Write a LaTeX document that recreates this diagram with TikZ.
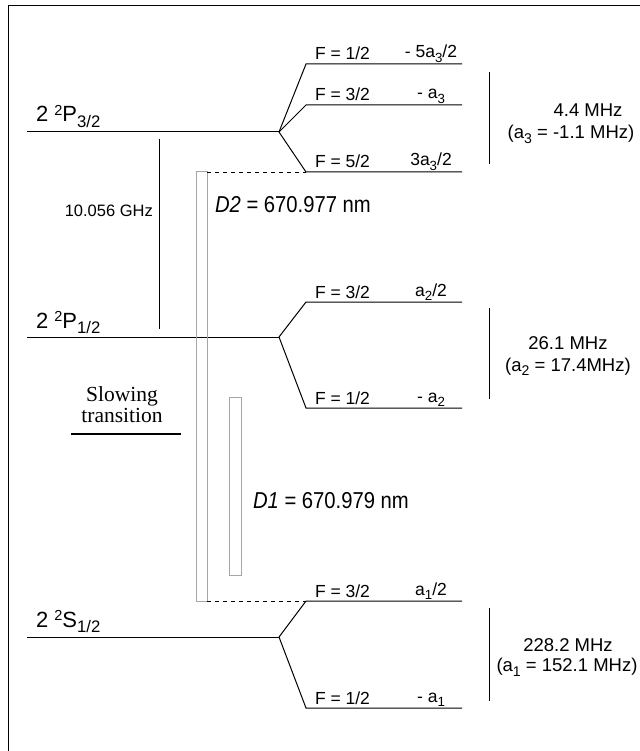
\documentclass[tikz,border=0pt]{standalone}
\usepackage{fontspec}
\setmainfont{Liberation Sans}
\newfontfamily\serifface{Liberation Serif}
\newfontfamily\narrowface[FakeStretch=0.88]{Liberation Sans}
\newcommand\lsb[1]{\raisebox{-0.27em}{\scalebox{0.76}{#1}}}
\newcommand\lsp[1]{\raisebox{0.28em}{\scalebox{0.66}{#1}}}
\tikzset{
  lvl/.style={line width=1pt, black},
  brk/.style={line width=1pt, black},
  dsh/.style={line width=0.9pt, dash pattern=on 4pt off 4pt},
  beam/.style={draw=gray!70, line width=1pt},
  lbl/.style={inner sep=0pt, outer sep=0pt, anchor=base west, font=\fontsize{22}{24}\selectfont},
  flbl/.style={inner sep=0pt, outer sep=0pt, anchor=base west, font=\fontsize{17.5}{19}\selectfont},
  albl/.style={inner sep=0pt, outer sep=0pt, anchor=base, font=\fontsize{17.5}{19}\selectfont},
  mhz/.style={inner sep=0pt, outer sep=0pt, anchor=base, font=\fontsize{18.5}{21}\selectfont},
  dlbl/.style={inner sep=0pt, outer sep=0pt, anchor=base west, font=\narrowface\fontsize{23}{26}\selectfont},
}
\begin{document}
\begin{tikzpicture}[x=1pt,y=-1pt]
\useasboundingbox (0,0) rectangle (639,751);
% frame
\coordinate (frBL) at (8,752);
\coordinate (frTL) at (8,6);
\coordinate (frTR) at (640,6);
\draw[line width=1pt] (frBL) -- (frTL) -- (frTR);

% ---------- 2 2P3/2 ----------
\coordinate (P3a) at (27,132);
\coordinate (P3b) at (279,132);
\coordinate (P3f1a) at (306,64);   \coordinate (P3f1b) at (462,64);
\coordinate (P3f3a) at (306,105);  \coordinate (P3f3b) at (462,105);
\coordinate (P3f5a) at (306,172);  \coordinate (P3f5b) at (462,172);
\draw[lvl] (P3a) -- (P3b);
\draw[lvl] (P3b) -- (P3f1a) -- (P3f1b);
\draw[lvl] (P3b) -- (P3f3a) -- (P3f3b);
\draw[lvl] (P3b) -- (P3f5a) -- (P3f5b);
\node[lbl] (P3lab) at (36,122) {2 \lsp{2}P\lsb{3/2}};
\node[flbl] (P3F1) at (315,60) {F = 1/2};
\node[flbl] (P3F3) at (315,101) {F = 3/2};
\node[flbl] (P3F5) at (315,168) {F = 5/2};
\node[albl] (P3A1) at (431,58) {- 5a\lsb{3}/2};
\node[albl] (P3A3) at (431,99) {- a\lsb{3}};
\node[albl] (P3A5) at (431,166) {3a\lsb{3}/2};
\coordinate (P3k1) at (489,72); \coordinate (P3k2) at (489,164);
\draw[brk] (P3k1) -- (P3k2);
\node[mhz] (P3m1) at (588,117) {4.4 MHz};
\node[mhz] (P3m2) at (571,139) {(a\lsb{3} = -1.1 MHz)};

% ---------- 2 2P1/2 ----------
\coordinate (P1a) at (27,337);
\coordinate (P1b) at (279,337);
\coordinate (P1f3a) at (306,302);  \coordinate (P1f3b) at (462,302);
\coordinate (P1f1a) at (306,408);  \coordinate (P1f1b) at (462,408);
\draw[lvl] (P1a) -- (P1b);
\draw[lvl] (P1b) -- (P1f3a) -- (P1f3b);
\draw[lvl] (P1b) -- (P1f1a) -- (P1f1b);
\node[lbl] (P1lab) at (36,328) {2 \lsp{2}P\lsb{1/2}};
\node[flbl] (P1F3) at (315,298) {F = 3/2};
\node[flbl] (P1F1) at (315,404) {F = 1/2};
\node[albl] (P1A3) at (431,296) {a\lsb{2}/2};
\node[albl] (P1A1) at (431,402) {- a\lsb{2}};
\coordinate (P1k1) at (489,308); \coordinate (P1k2) at (489,399);
\draw[brk] (P1k1) -- (P1k2);
\node[mhz] (P1m1) at (568,349) {26.1 MHz};
\node[mhz] (P1m2) at (568,371) {(a\lsb{2} = 17.4MHz)};

% ---------- 2 2S1/2 ----------
\coordinate (S1a) at (27,637);
\coordinate (S1b) at (279,637);
\coordinate (S1f3a) at (306,601);  \coordinate (S1f3b) at (462,601);
\coordinate (S1f1a) at (306,708);  \coordinate (S1f1b) at (462,708);
\draw[lvl] (S1a) -- (S1b);
\draw[lvl] (S1b) -- (S1f3a) -- (S1f3b);
\draw[lvl] (S1b) -- (S1f1a) -- (S1f1b);
\node[lbl] (S1lab) at (36,627) {2 \lsp{2}S\lsb{1/2}};
\node[flbl] (S1F3) at (315,597) {F = 3/2};
\node[flbl] (S1F1) at (315,704) {F = 1/2};
\node[albl] (S1A3) at (431,595) {a\lsb{1}/2};
\node[albl] (S1A1) at (431,702) {- a\lsb{1}};
\coordinate (S1k1) at (489,608); \coordinate (S1k2) at (489,701);
\draw[brk] (S1k1) -- (S1k2);
\node[mhz] (S1m1) at (568,651) {228.2 MHz};
\node[mhz] (S1m2) at (567,671) {(a\lsb{1} = 152.1 MHz)};

% ---------- fine structure interval ----------
\coordinate (fs1) at (159,139); \coordinate (fs2) at (159,329);
\draw[brk] (fs1) -- (fs2);
\node[inner sep=0pt, anchor=east, font=\fontsize{16.5}{18}\selectfont] (ghz) at (153,211) {10.056 GHz};

% ---------- D lines ----------
\coordinate (d2tl) at (196,172); \coordinate (d2tr) at (207,172);
\coordinate (d2br) at (207,601);
\draw[beam] (d2tl) rectangle (d2br);
\draw[dsh] (d2tr) -- (P3f5a);
\draw[dsh] (d2br) -- (S1f3a);
\coordinate (d1tl) at (229,397); \coordinate (d1br) at (241,575);
\draw[beam] (d1tl) rectangle (d1br);
\node[dlbl] (D2lab) at (215,212) {\textit{D2} = 670.977 nm};
\node[dlbl] (D1lab) at (253,508) {\textit{D1} = 670.979 nm};

% ---------- slowing transition ----------
\node[inner sep=0pt, align=center, font=\serifface\fontsize{21.5}{21}\selectfont] (slow) at (122,405) {Slowing\\transition};
\coordinate (sb1) at (71,434); \coordinate (sb2) at (181,434);
\draw[line width=2.4pt] (sb1) -- (sb2);
\end{tikzpicture}
\end{document}
